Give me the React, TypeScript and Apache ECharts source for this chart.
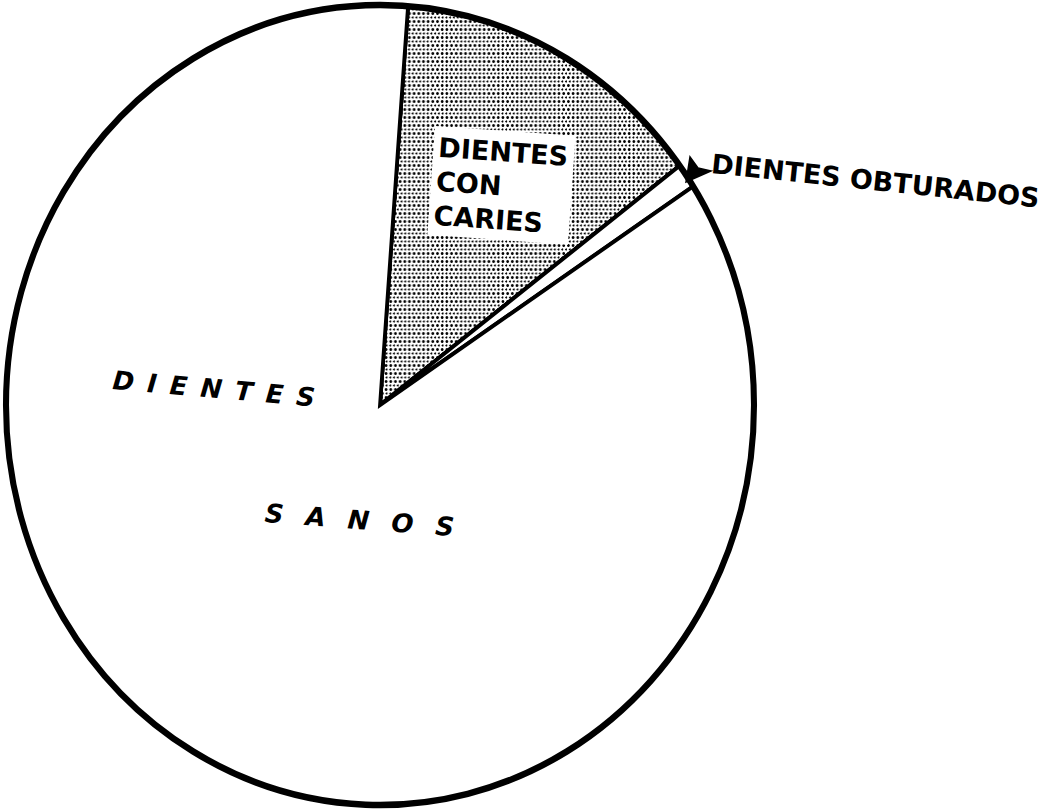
import React, { useEffect, useRef } from "react";
import * as echarts from "echarts";

const categories = ["DIENTES CON CARIES", "DIENTES OBTURADOS", "DIENTES SANOS"];
const values = [13.6, 1.0, 85.4];
const cariesLabel = "DIENTES\nCON\nCARIES";
const obturadosLabel = "DIENTES OBTURADOS";
const sanosLabel1 = "D\u2002I\u2002E\u2002N\u2002T\u2002E\u2002S";
const sanosLabel2 = "S\u2002 A\u2002 N\u2002 O\u2002 S";

const FONT = '"DejaVu Sans", "Liberation Sans", sans-serif';
const CX = 380;
const CY = 405;
const R = 400;
const X_SCALE = 0.935;
const OFF = 60;

export default function App() {
  const pieRef = useRef<HTMLDivElement>(null);
  const textRef = useRef<HTMLDivElement>(null);
  useEffect(() => {
    if (!pieRef.current || !textRef.current) return;
    const pie = echarts.init(pieRef.current, null, { renderer: "svg" });
    const txt = echarts.init(textRef.current, null, { renderer: "svg" });
    const dotted = {
      symbol: "circle",
      symbolSize: 1,
      color: "#000",
      backgroundColor: "#fff",
      dashArrayX: [
        [2.4, 1.3],
        [0, 1.85, 1.85, 0],
      ],
      dashArrayY: [2.3, 0.9],
      rotation: 0,
    };
    const deg = (d: number) => (d * Math.PI) / 180;
    pie.setOption({
      animation: false,
      backgroundColor: "transparent",
      series: [
        {
          type: "pie",
          center: [CX + OFF, CY],
          radius: [0, R],
          startAngle: 85.7,
          clockwise: true,
          silent: true,
          z: 1,
          avoidLabelOverlap: false,
          label: { show: false },
          labelLine: { show: false },
          emphasis: { disabled: true },
          itemStyle: { color: "#fff", borderColor: "#000", borderWidth: 4, borderJoin: "miter" },
          data: categories.map((name, i) => ({
            name,
            value: values[i],
            itemStyle: i === 0 ? { color: "#fff", decal: dotted } : { color: "#fff" },
          })),
        },
      ],
      graphic: [
        {
          type: "circle",
          z: 50,
          silent: true,
          shape: { cx: CX + OFF, cy: CY, r: R },
          style: { fill: "none", stroke: "#000", lineWidth: 6.5 },
        },
      ],
    });
    txt.setOption({
      animation: false,
      backgroundColor: "transparent",
      graphic: [
        {
          type: "text",
          z: 100,
          x: 435,
          y: 126,
          rotation: deg(-4),
          style: {
            text: cariesLabel,
            fontFamily: FONT,
            fontWeight: "bold",
            fontSize: 27,
            lineHeight: 34,
            fill: "#000",
            align: "left",
            verticalAlign: "top",
            backgroundColor: "#fff",
            padding: [4, 6, 3, 5],
          },
        },
        {
          type: "text",
          z: 100,
          x: 713,
          y: 150,
          rotation: deg(-6),
          style: {
            text: obturadosLabel,
            fontFamily: FONT,
            fontWeight: "bold",
            fontSize: 27,
            fill: "#000",
            align: "left",
            verticalAlign: "top",
          },
        },
        {
          type: "polygon",
          z: 100,
          shape: {
            points: [
              [686, 182],
              [690, 157],
              [698, 168],
              [711, 171],
            ],
          },
          style: { fill: "#000", stroke: "#000", lineWidth: 1.5, lineJoin: "miter" },
        },
        {
          type: "text",
          z: 100,
          x: 114,
          y: 367,
          rotation: deg(-5),
          style: {
            text: sanosLabel1,
            fontFamily: FONT,
            fontWeight: "bold",
            fontStyle: "italic",
            fontSize: 26,
            fill: "#000",
            align: "left",
            verticalAlign: "top",
          },
        },
        {
          type: "text",
          z: 100,
          x: 266,
          y: 500,
          rotation: deg(-4.3),
          style: {
            text: sanosLabel2,
            fontFamily: FONT,
            fontWeight: "bold",
            fontStyle: "italic",
            fontSize: 26,
            fill: "#000",
            align: "left",
            verticalAlign: "top",
          },
        },
      ],
    });
    return () => {
      pie.dispose();
      txt.dispose();
    };
  }, []);
  return (
    <div
      style={{
        position: "absolute",
        left: 0,
        top: 0,
        width: 1054,
        height: 810,
        background: "#fff",
        overflow: "hidden",
      }}
    >
      <div
        ref={pieRef}
        style={{
          position: "absolute",
          left: -OFF,
          top: 0,
          width: 1054 + OFF,
          height: 810,
          transform: `scaleX(${X_SCALE})`,
          transformOrigin: `${CX + OFF}px ${CY}px`,
        }}
      />
      <div
        ref={textRef}
        style={{ position: "absolute", left: 0, top: 0, width: 1054, height: 810, pointerEvents: "none" }}
      />
    </div>
  );
}
